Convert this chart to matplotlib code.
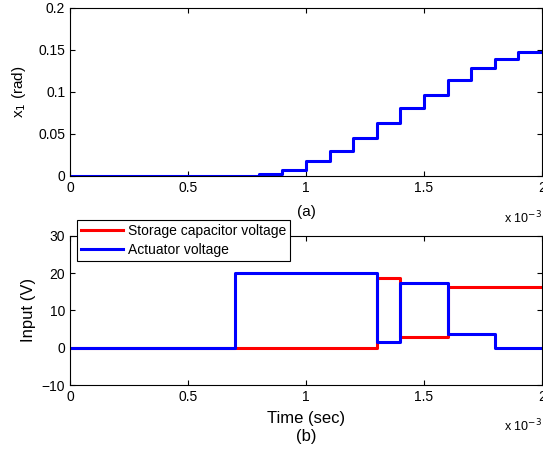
import matplotlib
matplotlib.use('Agg')
import numpy as np
import matplotlib.pyplot as plt

plt.rcParams.update({'font.size': 10, 'font.family': 'Liberation Sans',
                     'xtick.direction': 'in', 'ytick.direction': 'in',
                     'xtick.top': True, 'ytick.right': True,
                     'axes.linewidth': 0.8})

# --- DATOS (tiempo en unidades de 1e-3 s) ---
t_x1 = [0, 0.8, 0.9, 1.0, 1.1, 1.2, 1.3, 1.4, 1.5, 1.6, 1.7, 1.8, 1.9, 2.0]
x1 = [0, 0.002, 0.0076, 0.0175, 0.030, 0.0453, 0.0628, 0.0807, 0.097,
      0.114, 0.128, 0.1396, 0.1475, 0.1475]

t_cap = [0, 1.3, 1.4, 1.6, 2.0]
v_cap = [0, 18.6, 2.8, 16.3, 16.3]

t_act = [0, 0.7, 1.3, 1.4, 1.6, 1.8, 2.0]
v_act = [0, 20, 1.5, 17.3, 3.8, 0, 0]

xticks = [0, 0.5, 1, 1.5, 2]
xticklabels = ['0', '0.5', '1', '1.5', '2']

fig = plt.figure(figsize=(5.43, 4.51), dpi=100)

# --- panel (a) ---
ax1 = fig.add_axes([0.129, 0.6098, 0.869, 0.3725])
ax1.plot(t_x1, x1, drawstyle='steps-post', color='#0000ff', lw=2.2)
ax1.set_xlim(0, 2)
ax1.set_ylim(0, 0.2)
ax1.set_xticks(xticks)
ax1.set_xticklabels(xticklabels)
ax1.set_yticks([0, 0.05, 0.1, 0.15, 0.2])
ax1.set_yticklabels(['0', '0.05', '0.1', '0.15', '0.2'])
ax1.set_ylabel('x$_1$ (rad)', fontsize=11, labelpad=7)
ax1.set_xlabel('(a)', fontsize=11, labelpad=7)
ax1.text(1.0, -0.2, r'x 10$^{-3}$', transform=ax1.transAxes,
         ha='right', va='top', fontsize=9)

# --- panel (b) ---
ax2 = fig.add_axes([0.129, 0.1463, 0.869, 0.331])
ax2.plot(t_cap, v_cap, drawstyle='steps-post', color='#ff0000', lw=2.2,
         label='Storage capacitor voltage')
ax2.plot(t_act, v_act, drawstyle='steps-post', color='#0000ff', lw=2.2,
         label='Actuator voltage')
ax2.set_xlim(0, 2)
ax2.set_ylim(-10, 30)
ax2.set_xticks(xticks)
ax2.set_xticklabels(xticklabels)
ax2.set_yticks([-10, 0, 10, 20, 30])
ax2.set_yticklabels(['\u221210', '0', '10', '20', '30'])
ax2.set_ylabel('Input (V)', fontsize=12)
ax2.set_xlabel('Time (sec)\n(b)', fontsize=12, labelpad=5, linespacing=1.3)
ax2.text(1.0, -0.22, r'x 10$^{-3}$', transform=ax2.transAxes,
         ha='right', va='top', fontsize=9)
leg = ax2.legend(loc='upper left', bbox_to_anchor=(0.015, 1.105),
                 borderaxespad=0, fancybox=False, framealpha=1,
                 edgecolor='k', handlelength=3.0, handletextpad=0.35,
                 labelspacing=0.35, borderpad=0.3)
leg.get_frame().set_linewidth(0.8)

fig.savefig('out.png', dpi=100)
